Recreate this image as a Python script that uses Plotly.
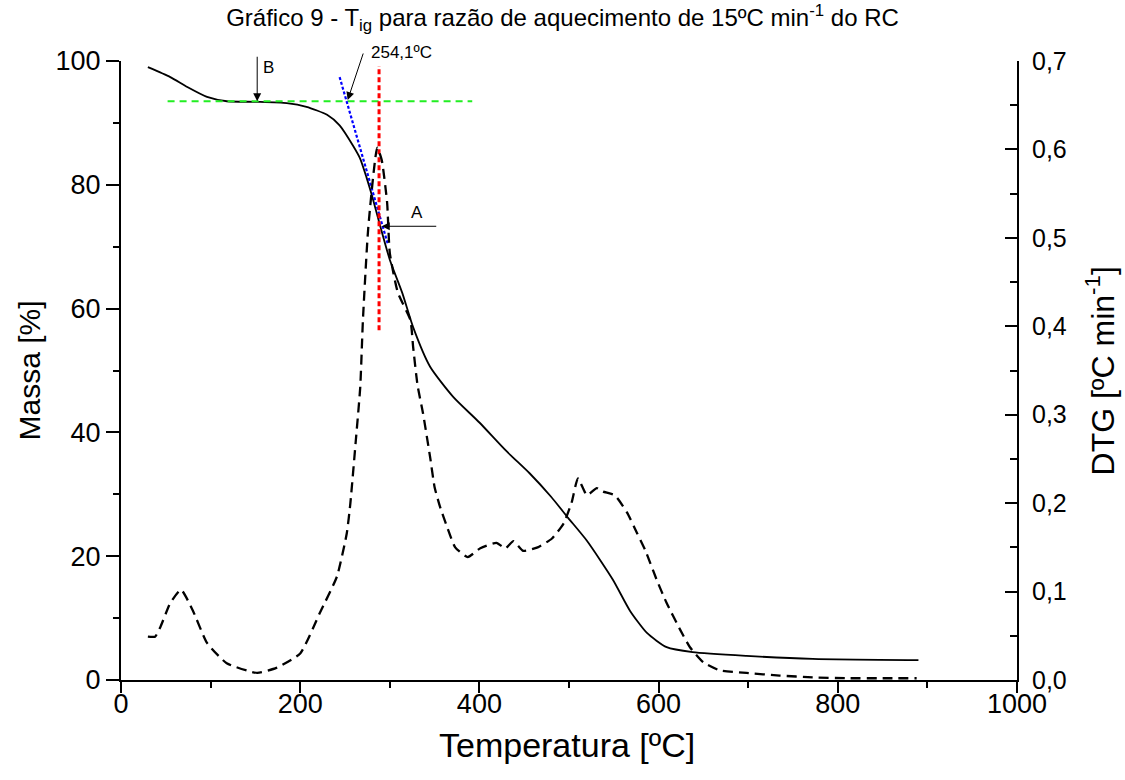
import plotly.graph_objects as go

# ---- data ----
T_mass = [30, 55, 74, 96, 118, 152, 185, 207, 230, 244, 259, 267, 274, 280, 289, 300, 314, 326,
          345, 371, 400, 430, 456, 480, 499, 520, 549, 568, 587, 609, 638, 698, 772, 890]
mass = [99.0, 97.4, 95.8, 94.2, 93.5, 93.4, 93.2, 92.6, 91.3, 89.6, 86.3, 84.2, 81.2, 78.3, 73.5,
        67.9, 62.5, 57.0, 50.6, 45.7, 41.6, 37.0, 33.4, 29.6, 26.2, 22.5, 16.2, 11.2, 7.6, 5.3,
        4.5, 3.9, 3.4, 3.2]

T_dtg = [30, 38, 44, 55, 67, 80, 96, 118, 152, 174, 200, 222, 241, 252, 256, 262, 267, 270, 276,
         286, 291, 297, 300, 309, 323, 326, 331, 337, 345, 350, 356, 364, 373, 387, 401, 419, 429,
         438, 449, 465, 481, 494, 503, 510, 520, 531, 538, 551, 565, 576, 585, 598, 609, 624, 635,
         650, 668, 698, 735, 772, 810, 850, 888]
dtg = [0.049, 0.049, 0.060, 0.087, 0.102, 0.079, 0.042, 0.019, 0.008, 0.014, 0.030, 0.076, 0.117,
       0.166, 0.200, 0.270, 0.331, 0.407, 0.512, 0.602, 0.588, 0.540, 0.483, 0.438, 0.407, 0.377,
       0.333, 0.302, 0.252, 0.218, 0.196, 0.173, 0.150, 0.139, 0.149, 0.155, 0.149, 0.157, 0.146,
       0.150, 0.160, 0.177, 0.201, 0.228, 0.209, 0.217, 0.213, 0.209, 0.189, 0.166, 0.147, 0.113,
       0.087, 0.057, 0.037, 0.020, 0.011, 0.008, 0.005, 0.003, 0.002, 0.002, 0.002]

# guide lines (onset construction)
green_T = [52, 392]
green_m = [93.5, 93.5]
blue_T = [244, 298]
blue_m = [97.4, 70.3]
red_T = [288, 288]
red_m = [56.5, 99.2]

x_ticks = [0, 200, 400, 600, 800, 1000]
y_ticks = [0, 20, 40, 60, 80, 100]
y2_ticks = [0, 0.1, 0.2, 0.3, 0.4, 0.5, 0.6, 0.7]
y2_labels = ["0,0", "0,1", "0,2", "0,3", "0,4", "0,5", "0,6", "0,7"]

FONT = "Liberation Sans, Arial, sans-serif"

fig = go.Figure()
fig.add_trace(go.Scatter(x=T_dtg, y=dtg, mode="lines", yaxis="y2", showlegend=False,
                         line=dict(color="black", width=2.3, dash="10px,6px", shape="spline", smoothing=0.5)))
fig.add_trace(go.Scatter(x=T_mass, y=mass, mode="lines", showlegend=False,
                         line=dict(color="black", width=1.8, shape="spline", smoothing=0.6)))
fig.add_trace(go.Scatter(x=green_T, y=green_m, mode="lines", showlegend=False,
                         line=dict(color="#22ee22", width=2.2, dash="7px,5px")))
fig.add_trace(go.Scatter(x=blue_T, y=blue_m, mode="lines", showlegend=False,
                         line=dict(color="#0000ff", width=2.2, dash="3px,2px")))
fig.add_trace(go.Scatter(x=red_T, y=red_m, mode="lines", showlegend=False,
                         line=dict(color="#ff0000", width=3, dash="5px,3px")))

arrow = dict(showarrow=True, arrowhead=2, arrowsize=1.6, arrowwidth=1, arrowcolor="black",
             standoff=0, text="", xref="x", yref="y", axref="pixel", ayref="pixel")
annotations = [
    dict(x=152, y=93.5, ax=0, ay=-46, **arrow),
    dict(x=253, y=93.7, ax=16, ay=-48, **arrow),
    dict(x=291, y=73.3, ax=56, ay=0, **arrow),
    dict(x=165, y=98.9, text="B", showarrow=False, xref="x", yref="y",
         font=dict(family=FONT, size=17, color="black")),
    dict(x=330, y=75.6, text="A", showarrow=False, xref="x", yref="y",
         font=dict(family=FONT, size=17, color="black")),
    dict(x=0.313, y=1.0145, text="254,1ºC", showarrow=False, xref="paper", yref="paper",
         xanchor="center", yanchor="middle",
         font=dict(family=FONT, size=17, color="black")),
    # axis titles
    dict(x=-0.1016, y=0.5, xref="paper", yref="paper", text="Massa [%]", textangle=-90,
         xanchor="center", yanchor="middle",
         showarrow=False, font=dict(family=FONT, size=30, color="black")),
    dict(x=0.498, y=-0.105, xref="paper", yref="paper", text="Temperatura [ºC]",
         xanchor="center", yanchor="middle",
         showarrow=False, font=dict(family=FONT, size=34, color="black")),
    dict(x=1.0926, y=0.5, xref="paper", yref="paper", text="DTG [ºC min<sup>-1</sup>]", textangle=-90,
         xanchor="center", yanchor="middle",
         showarrow=False, font=dict(family=FONT, size=32, color="black")),
]

fig.update_layout(
    width=1125, height=780,
    paper_bgcolor="white", plot_bgcolor="white",
    margin=dict(l=121, r=108, t=61, b=100),
    title=dict(text="Gráfico 9 - T<sub>ig</sub> para razão de aquecimento de 15ºC min<sup>-1</sup> do RC",
               x=0.5, xanchor="center", y=0.977, yanchor="middle",
               font=dict(family=FONT, size=24, color="black")),
    xaxis=dict(range=[0, 1000], tickvals=x_ticks, showgrid=False, zeroline=False,
               showline=True, linewidth=2, linecolor="black", ticks="outside", ticklen=11,
               tickwidth=2, tickcolor="black", ticklabelstandoff=-12,
               minor=dict(ticks="outside", ticklen=6, tickwidth=2, tickcolor="black", dtick=100, tick0=0),
               tickfont=dict(family=FONT, size=27, color="black")),
    yaxis=dict(range=[0, 100], tickvals=y_ticks, showgrid=False, zeroline=False,
               showline=True, linewidth=2, linecolor="black", ticks="outside", ticklen=13,
               tickwidth=2, tickcolor="black",
               minor=dict(ticks="outside", ticklen=6, tickwidth=2, tickcolor="black", dtick=10, tick0=0),
               tickfont=dict(family=FONT, size=27, color="black")),
    yaxis2=dict(range=[0, 0.7], overlaying="y", side="right", tickvals=y2_ticks, ticktext=y2_labels,
                showgrid=False, zeroline=False, showline=True, linewidth=2, linecolor="black",
                ticks="inside", ticklen=12, tickwidth=2, tickcolor="black", ticklabelstandoff=8,
                minor=dict(ticks="inside", ticklen=7, tickwidth=2, tickcolor="black", dtick=0.05, tick0=0),
                tickfont=dict(family=FONT, size=25, color="black")),
    annotations=annotations,
)

# remove the browser's default 8px body margin so the figure fills the window exactly
fig.write_html("out.html", config={"displayModeBar": False},
               post_script="document.body.style.margin='0';")
